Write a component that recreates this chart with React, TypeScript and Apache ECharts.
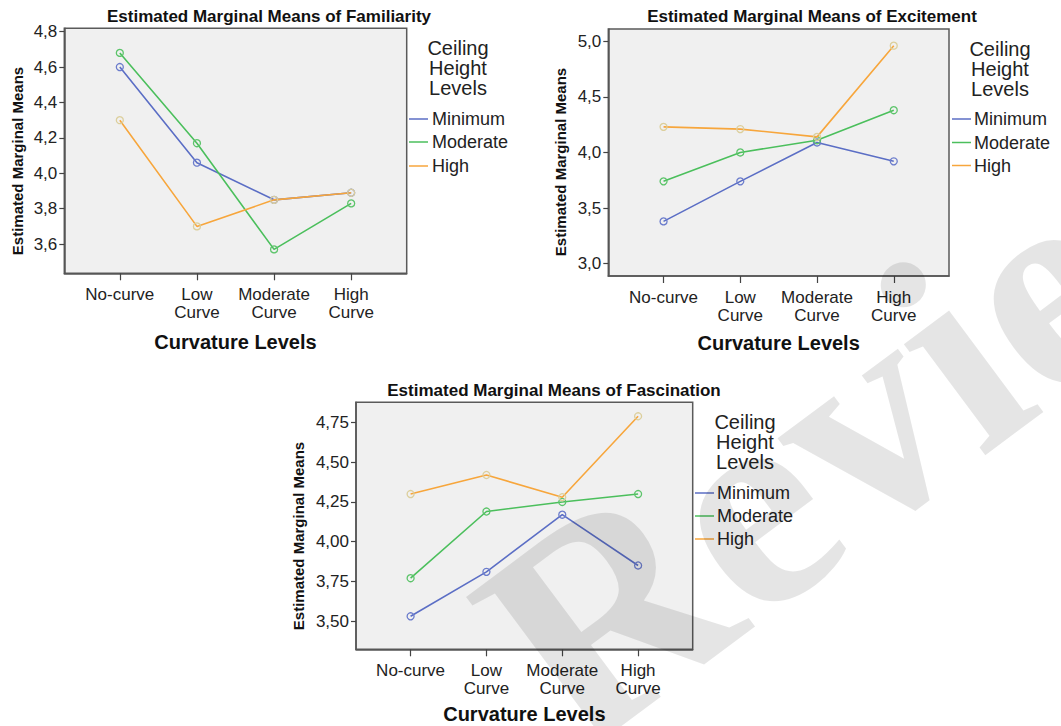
import React, { useEffect, useRef } from "react";
import * as echarts from "echarts";

// ---- data ----
const categories = ["No-curve", "Low\nCurve", "Moderate\nCurve", "High\nCurve"];
const levels = ["Minimum", "Moderate", "High"];
const legendTitle = "Ceiling\nHeight\nLevels";
const xName = "Curvature Levels";
const yName = "Estimated Marginal Means";

const familiarityMinimum = [4.6, 4.06, 3.85, 3.89];
const familiarityModerate = [4.68, 4.17, 3.57, 3.83];
const familiarityHigh = [4.3, 3.7, 3.85, 3.89];
const familiarityTicks = [3.6, 3.8, 4.0, 4.2, 4.4, 4.6, 4.8];

const excitementMinimum = [3.38, 3.74, 4.09, 3.92];
const excitementModerate = [3.74, 4.0, 4.11, 4.38];
const excitementHigh = [4.23, 4.21, 4.14, 4.96];
const excitementTicks = [3.0, 3.5, 4.0, 4.5, 5.0];

const fascinationMinimum = [3.53, 3.81, 4.17, 3.85];
const fascinationModerate = [3.77, 4.19, 4.25, 4.3];
const fascinationHigh = [4.3, 4.42, 4.28, 4.79];
const fascinationTicks = [3.5, 3.75, 4.0, 4.25, 4.5, 4.75];

const watermark = "Review";

// ---- styles / layout ----
const FONT = "'Liberation Sans', Arial, sans-serif";
const lineColors = ["#5b6ec5", "#4bbf5c", "#f7a63c"];
const markerColors = ["#6b7ccc", "#5cc46a", "#dccf9c"];

const panels = [
  {
    title: "Estimated Marginal Means of Familiarity",
    series: [familiarityMinimum, familiarityModerate, familiarityHigh],
    ticks: familiarityTicks,
    decimals: 1,
    yMin: 3.435,
    yMax: 4.819,
    grid: { left: 64.3, top: 28.3, width: 342.4, height: 245 },
    titleX: 269,
    titleY: 16,
    yNameX: 17,
    yNameY: 161,
    xNameY: 342,
    legTitleX: 458,
    legTitleY: 48,
    legLineX: 409,
    legTextX: 432,
    legY: [119, 142, 166],
  },
  {
    title: "Estimated Marginal Means of Excitement",
    series: [excitementMinimum, excitementModerate, excitementHigh],
    ticks: excitementTicks,
    decimals: 1,
    yMin: 2.889,
    yMax: 5.11,
    grid: { left: 608.3, top: 29, width: 340.7, height: 247 },
    titleX: 812,
    titleY: 16,
    yNameX: 560,
    yNameY: 162,
    xNameY: 343,
    legTitleX: 1000,
    legTitleY: 48.5,
    legLineX: 952,
    legTextX: 974,
    legY: [119, 142.5, 165.5],
  },
  {
    title: "Estimated Marginal Means of Fascination",
    series: [fascinationMinimum, fascinationModerate, fascinationHigh],
    ticks: fascinationTicks,
    decimals: 2,
    yMin: 3.322,
    yMax: 4.878,
    grid: { left: 356, top: 402.3, width: 336.7, height: 247 },
    titleX: 554,
    titleY: 390,
    yNameX: 298,
    yNameY: 536,
    xNameY: 714,
    legTitleX: 745,
    legTitleY: 421.5,
    legLineX: 695,
    legTextX: 717,
    legY: [493, 516, 539],
  },
];

export default function App() {
  const ref = useRef<HTMLDivElement>(null);

  useEffect(() => {
    if (!ref.current) return;
    const chart = echarts.init(ref.current, null, { renderer: "svg" });

    const grids: any[] = [];
    const xAxes: any[] = [];
    const yAxes: any[] = [];
    const series: any[] = [];
    const graphics: any[] = [];

    panels.forEach((p, i) => {
      grids.push({
        ...p.grid,
        show: true,
        backgroundColor: "#f0f0f0",
        borderColor: "#5a5a5a",
        borderWidth: 1.5,
      });
      const catIdx = categories.map((_, k) => k);
      xAxes.push({
        type: "value",
        gridIndex: i,
        min: -0.72,
        max: 3.72,
        splitLine: { show: false },
        axisLine: { show: true, onZero: false, lineStyle: { color: "#555", width: 1.5 } },
        axisTick: {
          show: true,
          customValues: catIdx,
          length: 7,
          lineStyle: { color: "#444", width: 1.2 },
        },
        axisLabel: {
          customValues: catIdx,
          formatter: (v: number) => categories[Math.round(v)],
          fontFamily: FONT,
          fontSize: 17,
          lineHeight: 18,
          color: "#222",
          margin: 12,
        },
      });
      yAxes.push({
        type: "value",
        gridIndex: i,
        min: p.yMin,
        max: p.yMax,
        splitLine: { show: false },
        axisLine: { show: true, onZero: false, lineStyle: { color: "#555", width: 1.5 } },
        axisTick: {
          show: true,
          customValues: p.ticks,
          length: 5,
          lineStyle: { color: "#444", width: 1.2 },
        },
        axisLabel: {
          customValues: p.ticks,
          formatter: (v: number) => v.toFixed(p.decimals).replace(".", ","),
          fontFamily: FONT,
          fontSize: 17,
          color: "#222",
          margin: 7,
        },
      });
      p.series.forEach((vals, s) => {
        series.push({
          type: "line",
          name: levels[s],
          xAxisIndex: i,
          yAxisIndex: i,
          data: vals.map((v, k) => [catIdx[k], v]),
          symbol: "circle",
          symbolSize: 7,
          showSymbol: true,
          lineStyle: { color: lineColors[s], width: 1.6 },
          itemStyle: {
            color: "rgba(0,0,0,0)",
            borderColor: markerColors[s],
            borderWidth: 1.3,
          },
          z: 3 + s,
        });
      });

      const cx = p.grid.left + p.grid.width / 2;
      graphics.push({
        type: "text",
        x: p.titleX,
        y: p.titleY,
        style: {
          text: p.title,
          font: `bold 17px ${FONT}`,
          fill: "#111",
          textAlign: "center",
          textVerticalAlign: "middle",
        },
      });
      graphics.push({
        type: "text",
        x: cx,
        y: p.xNameY,
        style: {
          text: xName,
          font: `bold 20px ${FONT}`,
          fill: "#111",
          textAlign: "center",
          textVerticalAlign: "middle",
        },
      });
      graphics.push({
        type: "text",
        x: p.yNameX,
        y: p.yNameY,
        rotation: Math.PI / 2,
        style: {
          text: yName,
          font: `bold 15px ${FONT}`,
          fill: "#111",
          textAlign: "center",
          textVerticalAlign: "middle",
        },
      });
      graphics.push({
        type: "text",
        x: p.legTitleX,
        y: p.legTitleY - 10,
        style: {
          text: legendTitle,
          font: `20px ${FONT}`,
          lineHeight: 20,
          fill: "#222",
          textAlign: "center",
          textVerticalAlign: "top",
        },
      });
      levels.forEach((lv, s) => {
        graphics.push({
          type: "line",
          shape: { x1: p.legLineX, y1: p.legY[s], x2: p.legLineX + 19, y2: p.legY[s] },
          style: { stroke: lineColors[s], lineWidth: 1.5 },
        });
        graphics.push({
          type: "text",
          x: p.legTextX,
          y: p.legY[s],
          style: {
            text: lv,
            font: `18px ${FONT}`,
            fill: "#222",
            textAlign: "left",
            textVerticalAlign: "middle",
          },
        });
      });
    });

    graphics.push({
      type: "text",
      x: 893,
      y: 398,
      rotation: 0.64,
      silent: true,
      z: 100,
      style: {
        text: watermark,
        font: `bold 300px 'Liberation Serif', 'Times New Roman', serif`,
        fill: "rgba(0,0,0,0.1)",
        textAlign: "center",
        textVerticalAlign: "middle",
      },
    });

    chart.setOption({
      animation: false,
      backgroundColor: "#ffffff",
      grid: grids,
      xAxis: xAxes,
      yAxis: yAxes,
      series,
      graphic: graphics,
    });

    return () => chart.dispose();
  }, []);

  return (
    <div
      ref={ref}
      style={{ position: "absolute", left: 0, top: 0, width: 1061, height: 726 }}
    />
  );
}
